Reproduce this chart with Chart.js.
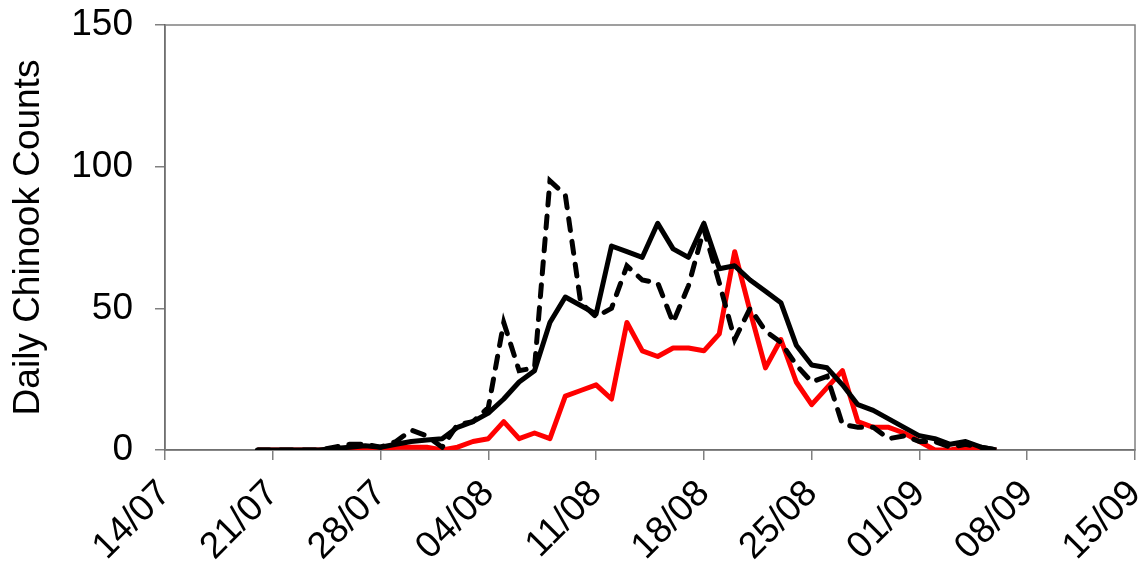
<!DOCTYPE html>
<html>
<head>
<meta charset="utf-8">
<script src="https://cdn.jsdelivr.net/npm/chart.js@4.4.1/dist/chart.umd.min.js"></script>
<style>
  html, body { margin: 0; padding: 0; background: #fff; }
</style>
</head>
<body>
<canvas id="Chart" width="1141" height="562"></canvas>
<script>
// tick labels every 7 days, x value = days since 14/07
const tickLabels = ["14/07", "21/07", "28/07", "04/08", "11/08", "18/08", "25/08", "01/09", "08/09", "15/09"];
const firstDay = 6; // 20/07

// daily counts from 20/07 to 07/09
const countsSolid = [
  0, 0, 0, 0, 0, 0.5, 1, 1.5, 1, 2,
  3, 3.5, 4, 8, 10, 13, 18, 24, 28, 45,
  54, 51, 48, 72, 70, 68, 80, 71, 68, 80,
  64, 65, 60, 56, 52, 37, 30, 29, 23, 16,
  14, 11, 8, 5, 4, 2, 3, 1, 0
];
const countsDashed = [
  0, 0, 0, 0, 0, 1, 2, 2, 1, 3,
  7, 5, 1, 9, 10, 15, 45, 28, 29, 95,
  90, 52, 47, 50, 65, 60, 59, 45, 58, 78,
  59, 39, 50, 42, 38, 30, 24, 26, 9, 8,
  8, 4, 5, 3, 3, 1, 2, 1, 0
];
const countsRed = [
  0, 0, 0, 0, 0, 0, 0, 0, 0, 1,
  1, 1, 0, 1, 3, 4, 10, 4, 6, 4,
  19, 21, 23, 18, 45, 35, 33, 36, 36, 35,
  41, 70, 49, 29, 39, 24, 16, 22, 28, 10,
  8, 8, 6, 3, 0, 0, 1, 0, 0
];

const toPoints = (arr) => arr.map((v, i) => ({ x: firstDay + i, y: v }));

const frame = {
  id: "frame",
  beforeDatasetsDraw(chart) {
    const { ctx, chartArea } = chart;
    ctx.save();
    ctx.strokeStyle = "#808080";
    ctx.lineWidth = 1.5;
    ctx.strokeRect(chartArea.left, chartArea.top, chartArea.right - chartArea.left, chartArea.bottom - chartArea.top);
    ctx.restore();
  },
};

const font = { family: "Arial, 'Liberation Sans', sans-serif", size: 37 };

new Chart(document.getElementById("Chart").getContext("2d"), {
  type: "line",
  data: {
    datasets: [
      {
        data: toPoints(countsSolid),
        borderColor: "#000000",
        borderWidth: 5,
        pointRadius: 0,
        borderJoinStyle: "round",
        order: 1,
      },
      {
        data: toPoints(countsDashed),
        borderColor: "#000000",
        borderWidth: 5,
        borderDash: [12, 11],
        borderCapStyle: "round",
        pointRadius: 0,
        order: 2,
      },
      {
        data: toPoints(countsRed),
        borderColor: "#ff0000",
        borderWidth: 5,
        pointRadius: 0,
        borderJoinStyle: "round",
        order: 3,
      },
    ],
  },
  options: {
    responsive: false,
    animation: false,
    layout: { padding: { top: 25, right: 6, left: 0, bottom: 0 } },
    plugins: {
      legend: { display: false },
      tooltip: { enabled: false },
    },
    scales: {
      x: {
        type: "linear",
        min: 0,
        max: 63,
        ticks: {
          stepSize: 7,
          autoSkip: false,
          maxRotation: 45,
          minRotation: 45,
          color: "#000",
          font: font,
          padding: 12,
          callback: (value) => tickLabels[value / 7],
        },
        grid: { drawOnChartArea: false, tickLength: 10, color: "#808080", lineWidth: 1.5 },
        border: { color: "#404040", width: 1.5 },
        afterFit: (s) => {
          s.height = 112;
          s.paddingLeft = 0;
          s.paddingRight = 0;
        },
      },
      y: {
        min: 0,
        max: 150,
        ticks: { stepSize: 50, color: "#000", font: font, padding: 22 },
        grid: { drawOnChartArea: false, tickLength: 10, color: "#808080", lineWidth: 1.5 },
        border: { color: "#404040", width: 1.5 },
        title: {
          display: true,
          text: "Daily Chinook Counts",
          color: "#000",
          font: font,
          padding: { top: 7, bottom: 0 },
        },
        afterFit: (s) => {
          s.width = 165;
          s.paddingTop = 0;
          s.paddingBottom = 0;
        },
      },
    },
  },
  plugins: [frame],
});
</script>
</body>
</html>
